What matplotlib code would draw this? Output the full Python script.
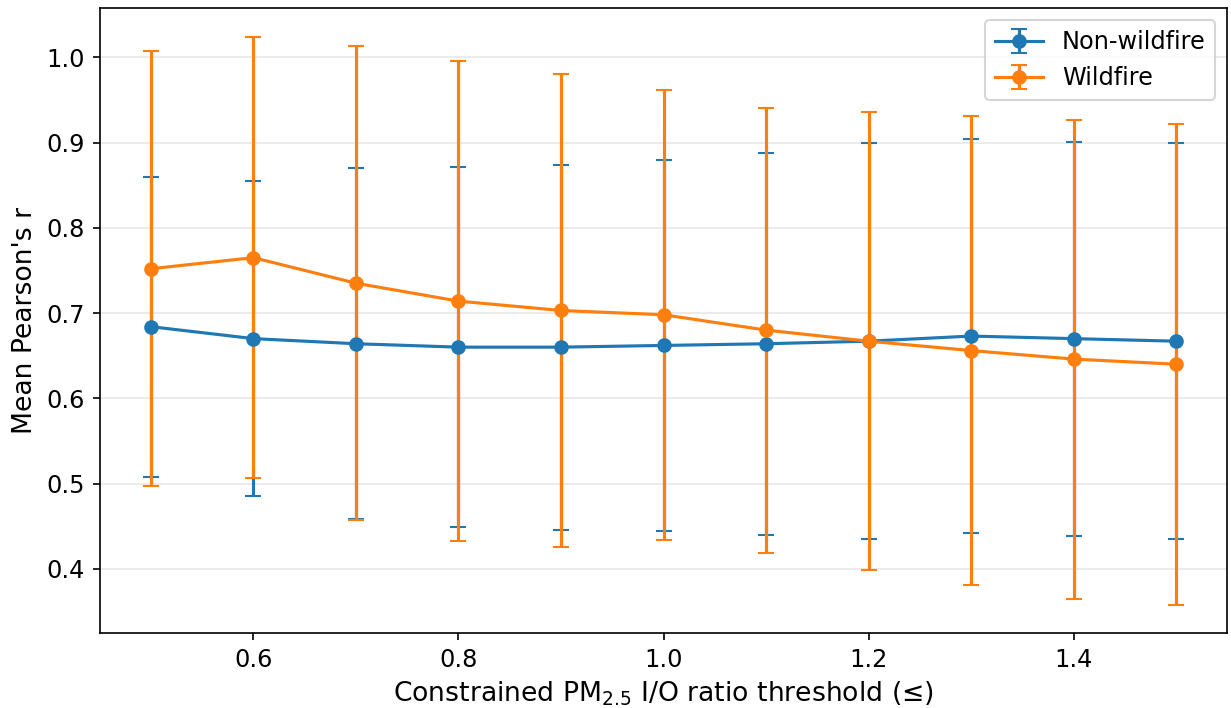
import matplotlib
matplotlib.use("Agg")
import matplotlib.pyplot as plt

# I/O ratio thresholds
thresholds = [0.5, 0.6, 0.7, 0.8, 0.9, 1.0, 1.1, 1.2, 1.3, 1.4, 1.5]

# mean Pearson's r and std, non-wildfire days
nonwf_mean = [0.684, 0.670, 0.664, 0.660, 0.660, 0.662, 0.664, 0.667, 0.673, 0.670, 0.667]
nonwf_std = [0.176, 0.185, 0.206, 0.211, 0.214, 0.218, 0.224, 0.232, 0.231, 0.231, 0.232]

# mean Pearson's r and std, wildfire days
wf_mean = [0.752, 0.765, 0.735, 0.714, 0.703, 0.698, 0.680, 0.667, 0.656, 0.646, 0.640]
wf_std = [0.255, 0.259, 0.278, 0.282, 0.277, 0.264, 0.261, 0.269, 0.275, 0.281, 0.282]

fig, ax = plt.subplots(figsize=(1231 / 150, 708 / 150), dpi=150)
fig.subplots_adjust(left=0.081, right=0.997, top=0.988, bottom=0.106)

ax.errorbar(thresholds, nonwf_mean, yerr=nonwf_std, fmt='-o', capsize=4,
            color='tab:blue', label='Non-wildfire')
ax.errorbar(thresholds, wf_mean, yerr=wf_std, fmt='-o', capsize=4,
            color='tab:orange', label='Wildfire')

ax.set_xlabel(r'Constrained PM$_{2.5}$ I/O ratio threshold (≤)', fontsize=12.8)
ax.set_ylabel("Mean Pearson's r", fontsize=12.8)
ax.tick_params(labelsize=11.5)
ax.grid(axis='y', alpha=0.3)
ax.legend(loc='upper right', fontsize=11.5)

fig.savefig('out.png', dpi=150)
